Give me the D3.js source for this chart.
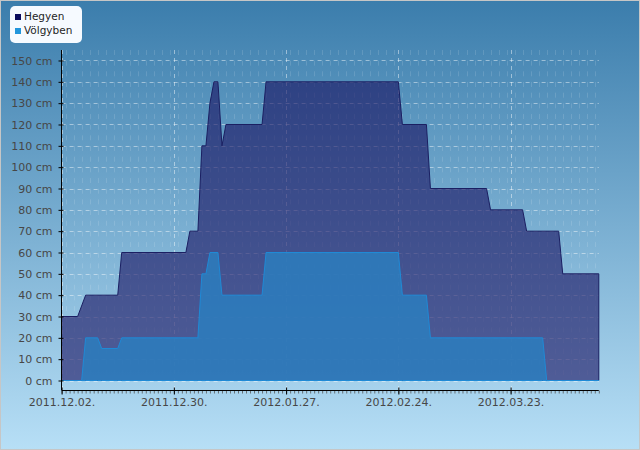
<!DOCTYPE html>
<html>
<head>
<meta charset="utf-8">
<script src="https://cdn.jsdelivr.net/npm/d3@7"></script>
<style>
  body { margin: 0; }
  text { font-family: "DejaVu Sans", sans-serif; }
</style>
</head>
<body>
<div id="wrapper"></div>
<script>
// snow depth data (cm), points where the value changes, linear in between
const hegyenDates = ["2011-12-02", "2011-12-06", "2011-12-08", "2011-12-16", "2011-12-17",
  "2012-01-02", "2012-01-03", "2012-01-05", "2012-01-06", "2012-01-07", "2012-01-08",
  "2012-01-09", "2012-01-10", "2012-01-11", "2012-01-12", "2012-01-21", "2012-01-22",
  "2012-02-24", "2012-02-25", "2012-03-02", "2012-03-03", "2012-03-17", "2012-03-18",
  "2012-03-26", "2012-03-27", "2012-04-04", "2012-04-05", "2012-04-14"]
const hegyenValues = [30, 30, 40, 40, 60,
  60, 70, 70, 110, 110, 130,
  140, 140, 110, 120, 120, 140,
  140, 120, 120, 90, 90, 80,
  80, 70, 70, 50, 50]

const volgyDates = ["2011-12-02", "2011-12-07", "2011-12-08", "2011-12-11", "2011-12-12",
  "2011-12-16", "2011-12-17", "2012-01-05", "2012-01-06", "2012-01-07", "2012-01-08",
  "2012-01-10", "2012-01-11", "2012-01-21", "2012-01-22", "2012-02-24", "2012-02-25",
  "2012-03-02", "2012-03-03", "2012-03-31", "2012-04-01", "2012-04-14"]
const volgyValues = [0, 0, 20, 20, 15,
  15, 20, 20, 50, 50, 60,
  60, 40, 40, 60, 60, 40,
  40, 20, 20, 0, 0]

const xTickDates = ["2011-12-02", "2011-12-30", "2012-01-27", "2012-02-24", "2012-03-23"]
const yTicks = d3.range(0, 151, 10)
const seriesNames = ["Hegyen", "Völgyben"]

const parseDate = d3.utcParse("%Y-%m-%d")
const toPoints = (dates, values) => dates.map((d, i) => ({ date: parseDate(d), value: values[i] }))
const hegyen = toPoints(hegyenDates, hegyenValues)
const volgy = toPoints(volgyDates, volgyValues)

const width = 640
const height = 450
const plot = { left: 61.6, right: 598.8, top: 50, bottom: 390 }

const svg = d3.select("#wrapper").append("svg")
    .attr("width", width)
    .attr("height", height)

const defs = svg.append("defs")
const bgGrad = defs.append("linearGradient")
    .attr("id", "bg-grad")
    .attr("x1", 0).attr("y1", 0).attr("x2", 0).attr("y2", 1)
bgGrad.append("stop").attr("offset", "0%").attr("stop-color", "#3b7dac")
bgGrad.append("stop").attr("offset", "100%").attr("stop-color", "#b7dff6")

svg.append("rect")
    .attr("x", 0.5).attr("y", 0.5)
    .attr("width", width - 1).attr("height", height - 1)
    .attr("fill", "url(#bg-grad)")
    .attr("stroke", "#c6c6c6")

// scales
const xScale = d3.scaleUtc()
    .domain([parseDate("2011-12-02"), parseDate("2012-04-14")])
    .range([plot.left, plot.right])

const yScale = d3.scaleLinear()
    .domain([-4.45, 154.92])
    .range([plot.bottom, plot.top])

// grid
const grid = svg.append("g")

// faint minor vertical lines every second day
const minorDays = d3.utcDay.range(parseDate("2011-12-03"), parseDate("2012-04-14"), 2)
grid.selectAll(".minor-v")
  .data(minorDays)
  .join("line")
    .attr("x1", d => Math.round(xScale(d)) + 0.5)
    .attr("x2", d => Math.round(xScale(d)) + 0.5)
    .attr("y1", plot.top)
    .attr("y2", yScale(0))
    .attr("stroke", "#ffffff")
    .attr("stroke-opacity", 0.13)
    .attr("stroke-dasharray", "5,5.67")

grid.selectAll(".major-h")
  .data(yTicks)
  .join("line")
    .attr("x1", plot.left)
    .attr("x2", plot.right)
    .attr("y1", d => Math.round(yScale(d)) + 0.5)
    .attr("y2", d => Math.round(yScale(d)) + 0.5)
    .attr("stroke", "#ffffff")
    .attr("stroke-opacity", 0.45)
    .attr("stroke-dasharray", "4,4")

grid.selectAll(".major-v")
  .data(xTickDates.map(parseDate))
  .join("line")
    .attr("x1", d => Math.round(xScale(d)) + 0.5)
    .attr("x2", d => Math.round(xScale(d)) + 0.5)
    .attr("y1", plot.top)
    .attr("y2", plot.bottom)
    .attr("stroke", "#ffffff")
    .attr("stroke-opacity", 0.45)
    .attr("stroke-dasharray", "4,4")

// areas
const areaGenerator = d3.area()
    .x(d => xScale(d.date))
    .y0(yScale(0))
    .y1(d => yScale(d.value))

svg.append("path")
    .attr("d", areaGenerator(hegyen) + "Z")
    .attr("fill", "rgba(24,15,95,0.6)")
    .attr("stroke", "#1b1f62")
    .attr("stroke-width", 1)

svg.append("path")
    .attr("d", areaGenerator(volgy) + "Z")
    .attr("fill", "rgba(43,126,190,0.85)")
    .attr("stroke", "#1f8ad6")
    .attr("stroke-width", 1)

// y axis
const yAxis = d3.axisLeft(yScale)
    .tickValues(yTicks)
    .tickSize(3)
    .tickPadding(6)
    .tickFormat(d => `${d} cm`)

const yAxisGroup = svg.append("g")
    .attr("transform", `translate(${Math.round(plot.left) - 0.5},0)`)
    .call(yAxis)
yAxisGroup.select(".domain")
    .attr("d", `M0,${plot.top}V${plot.bottom}`)
    .attr("stroke", "#000")
yAxisGroup.selectAll(".tick line")
    .attr("x1", 2)
    .attr("stroke", "#000")
yAxisGroup.selectAll(".tick text")
    .attr("font-size", 11)
    .attr("font-family", "DejaVu Sans")
    .attr("fill", "#474747")

// x axis, minor daily ticks first
const xMinorAxis = d3.axisBottom(xScale)
    .tickValues(d3.utcDay.range(parseDate("2011-12-02"), parseDate("2012-04-15")))
    .tickSize(3)
    .tickFormat("")
const xMinorGroup = svg.append("g")
    .attr("transform", `translate(0,${plot.bottom + 0.5})`)
    .call(xMinorAxis)
xMinorGroup.select(".domain").remove()
xMinorGroup.selectAll(".tick line").attr("stroke", "#555").attr("stroke-opacity", 0.8)

const xAxis = d3.axisBottom(xScale)
    .tickValues(xTickDates.map(parseDate))
    .tickSize(4)
    .tickPadding(4)
    .tickFormat(d3.utcFormat("%Y.%m.%d."))
const xAxisGroup = svg.append("g")
    .attr("transform", `translate(0,${plot.bottom + 0.5})`)
    .call(xAxis)
xAxisGroup.select(".domain")
    .attr("d", `M${plot.left},0H${plot.right}`)
    .attr("stroke", "#000")
xAxisGroup.selectAll(".tick line")
    .attr("y1", -3)
    .attr("stroke", "#000")
xAxisGroup.selectAll(".tick text")
    .attr("font-size", 11)
    .attr("font-family", "DejaVu Sans")
    .attr("fill", "#474747")

// legend
const legend = svg.append("g")
legend.append("rect")
    .attr("x", 10)
    .attr("y", 6)
    .attr("width", 72)
    .attr("height", 37)
    .attr("rx", 5)
    .attr("fill", "#f6faff")

const legendColors = ["#0b0b5c", "#2296dc"]
const legendItems = legend.selectAll(".legend-item")
  .data(seriesNames)
  .join("g")
    .attr("transform", (d, i) => `translate(15,${14 + i * 14})`)
legendItems.append("rect")
    .attr("width", 6)
    .attr("height", 6)
    .attr("fill", (d, i) => legendColors[i])
legendItems.append("text")
    .attr("x", 9)
    .attr("y", 6)
    .attr("font-size", 10.5)
    .attr("fill", "#1f1f1f")
    .text(d => d)
</script>
</body>
</html>
